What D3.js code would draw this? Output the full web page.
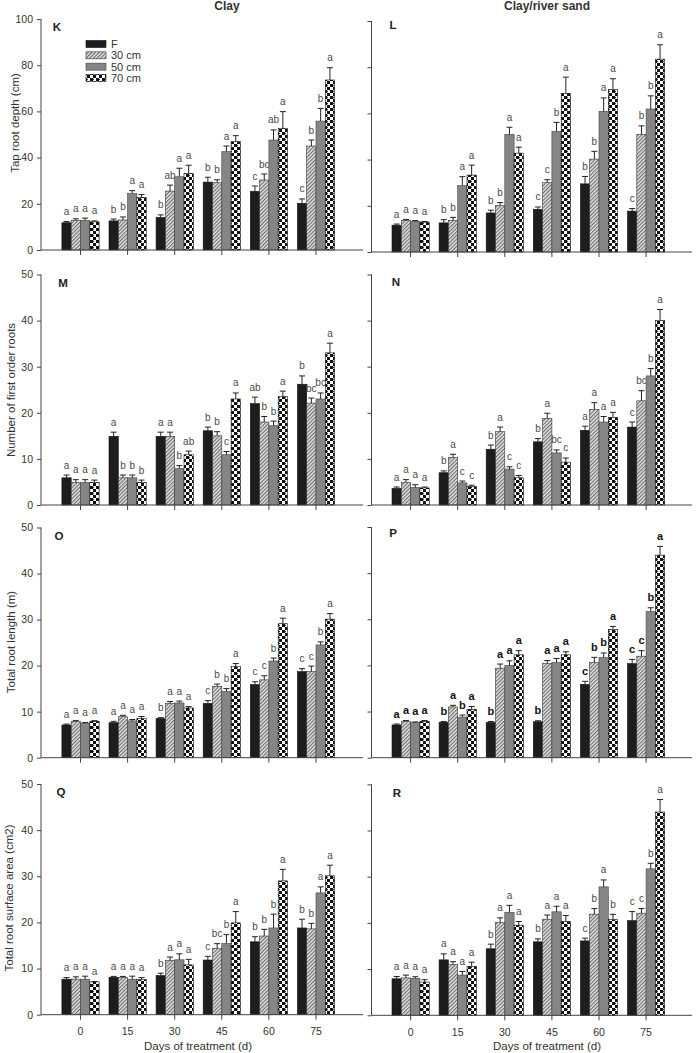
<!DOCTYPE html>
<html>
<head>
<meta charset="utf-8">
<script src="https://cdn.jsdelivr.net/npm/d3@7"></script>
<style>
  html, body { margin: 0; padding: 0; background: #fff; }
  svg { display: block; font-family: "Liberation Sans", Arial, sans-serif; }
</style>
</head>
<body>
<svg id="chart" width="700" height="1053"></svg>
<script>
// ---------------- DATA ----------------
const days = ["0", "15", "30", "45", "60", "75"];
const series = ["F", "30 cm", "50 cm", "70 cm"];
const ticks100 = [0, 20, 40, 60, 80, 100];
const ticks50 = [0, 10, 20, 30, 40, 50];

// K: Tap root depth (cm), Clay
const kMean = [[11.8, 12.6, 14.1, 29.4, 25.4, 20.2],
               [12.8, 13.0, 25.5, 29.1, 30.3, 45.0],
               [12.8, 24.4, 31.7, 42.6, 47.6, 55.8],
               [12.2, 22.8, 33.2, 46.9, 52.7, 73.6]];
const kErr  = [[0.5, 0.8, 1.1, 2.1, 2.3, 1.9],
               [0.7, 1.3, 2.6, 1.3, 2.6, 2.6],
               [1.0, 1.3, 3.7, 2.4, 4.4, 5.5],
               [0.4, 1.2, 3.5, 2.6, 7.2, 5.3]];
const kLet  = [["a", "b", "b", "b", "c", "c"],
               ["a", "b", "ab", "b", "bc", "b"],
               ["a", "a", "a", "a", "ab", "b"],
               ["a", "a", "a", "a", "a", "a"]];

// L: Tap root depth (cm), Clay/river sand
const lMean = [[11.6, 12.6, 16.9, 18.5, 29.5, 17.7],
               [13.7, 13.7, 20.1, 30.0, 40.2, 50.9],
               [13.3, 28.8, 50.9, 52.2, 60.9, 61.9],
               [12.9, 33.3, 42.8, 68.7, 70.3, 83.5]];
const lErr  = [[0.5, 1.4, 1.2, 1.0, 3.2, 1.1],
               [0.4, 1.3, 1.3, 1.3, 3.4, 3.7],
               [0.3, 3.8, 3.1, 3.9, 5.8, 5.7],
               [0.3, 4.3, 2.6, 7.0, 4.7, 6.2]];
const lLet  = [["a", "b", "b", "c", "b", "c"],
               ["a", "b", "b", "c", "b", "b"],
               ["a", "a", "a", "b", "a", "b"],
               ["a", "a", "a", "a", "a", "a"]];

// M: Number of first order roots, Clay
const mMean = [[5.9, 14.9, 14.9, 16.1, 22.0, 26.2],
               [4.9, 5.9, 14.9, 15.0, 18.0, 22.1],
               [4.9, 5.9, 7.9, 10.9, 17.2, 23.0],
               [4.9, 4.9, 10.9, 23.0, 23.5, 33.0]];
const mErr  = [[0.6, 0.9, 0.9, 0.8, 1.4, 1.8],
               [0.6, 0.6, 0.9, 0.9, 1.2, 1.1],
               [0.6, 0.6, 0.65, 0.7, 1.0, 1.3],
               [0.5, 0.5, 0.8, 1.3, 1.2, 2.1]];
const mLet  = [["a", "a", "a", "b", "ab", "b"],
               ["a", "b", "a", "b", "b", "bc"],
               ["a", "b", "b", "c", "b", "bc"],
               ["a", "b", "ab", "a", "a", "a"]];

// N: Number of first order roots, Clay/river sand
const nMean = [[3.6, 7.0, 12.1, 13.7, 16.2, 16.9],
               [4.9, 10.3, 15.9, 18.8, 20.7, 22.6],
               [3.8, 4.8, 7.8, 11.3, 18.0, 28.0],
               [3.7, 4.0, 5.9, 9.3, 19.0, 40.0]];
const nErr  = [[0.3, 0.4, 0.9, 0.7, 0.9, 1.1],
               [0.6, 0.7, 1.0, 1.1, 1.5, 2.2],
               [0.6, 0.4, 0.5, 0.65, 1.2, 1.6],
               [0.2, 0.3, 0.5, 0.9, 1.1, 2.4]];
const nLet  = [["a", "b", "b", "b", "a", "c"],
               ["a", "a", "a", "a", "a", "bc"],
               ["a", "c", "c", "bc", "a", "b"],
               ["a", "c", "c", "c", "a", "a"]];

// O: Total root length (m), Clay
const oMean = [[7.1, 7.6, 8.5, 11.8, 15.9, 18.7],
               [7.9, 8.9, 11.8, 15.5, 16.9, 18.7],
               [7.5, 8.0, 11.9, 14.4, 21.0, 24.5],
               [7.9, 8.5, 10.8, 19.8, 29.1, 30.1]];
const oErr  = [[0.2, 0.3, 0.2, 0.6, 0.6, 0.65],
               [0.15, 0.3, 0.4, 0.5, 0.9, 1.2],
               [0.15, 0.3, 0.4, 0.6, 0.65, 0.65],
               [0.15, 0.45, 0.3, 0.65, 1.2, 1.2]];
const oLet  = [["a", "a", "b", "c", "c", "c"],
               ["a", "a", "a", "b", "c", "c"],
               ["a", "a", "a", "b", "b", "b"],
               ["a", "a", "a", "a", "a", "a"]];

// P: Total root length (m), Clay/river sand
const pMean = [[7.1, 7.7, 7.65, 7.8, 15.9, 20.4],
               [7.9, 11.0, 19.4, 20.4, 20.6, 22.0],
               [7.6, 8.8, 20.0, 20.6, 21.7, 31.7],
               [7.9, 10.5, 22.3, 22.3, 27.8, 43.9]];
const pErr  = [[0.2, 0.15, 0.2, 0.2, 0.65, 0.9],
               [0.15, 0.35, 0.9, 0.65, 1.15, 1.2],
               [0.15, 0.45, 1.0, 0.9, 1.0, 0.8],
               [0.15, 0.6, 0.9, 0.65, 0.65, 1.9]];
const pLet  = [["a", "b", "b", "b", "c", "c"],
               ["a", "a", "a", "a", "b", "c"],
               ["a", "b", "a", "a", "b", "b"],
               ["a", "a", "a", "a", "a", "a"]];

// Q: Total root surface area (cm2), Clay
const qMean = [[7.7, 8.1, 8.5, 11.85, 15.8, 18.8],
               [7.7, 8.1, 11.8, 14.4, 17.05, 18.6],
               [7.7, 7.7, 11.9, 15.4, 18.8, 26.4],
               [7.1, 7.6, 10.8, 19.9, 29.0, 30.1]];
const qErr  = [[0.35, 0.2, 0.5, 0.8, 1.1, 1.9],
               [0.5, 0.2, 0.7, 1.0, 1.45, 1.2],
               [0.65, 0.65, 1.3, 1.95, 3.0, 1.3],
               [0.1, 0.45, 1.2, 2.45, 2.5, 2.3]];
const qLet  = [["a", "a", "b", "c", "b", "b"],
               ["a", "a", "a", "bc", "b", "b"],
               ["a", "a", "a", "b", "b", "a"],
               ["a", "a", "a", "a", "a", "a"]];

// R: Total root surface area (cm2), Clay/river sand
const rMean = [[7.9, 12.0, 14.4, 15.9, 16.1, 20.5],
               [8.1, 11.0, 20.1, 20.8, 21.9, 22.1],
               [8.0, 8.7, 22.3, 22.4, 27.8, 31.7],
               [7.2, 10.6, 19.5, 20.3, 20.7, 44.0]];
const rErr  = [[0.5, 1.3, 1.0, 0.65, 0.6, 1.95],
               [0.6, 0.6, 1.0, 0.9, 1.2, 1.0],
               [0.35, 0.8, 1.5, 1.2, 1.5, 1.2],
               [0.5, 0.9, 0.8, 1.3, 1.15, 2.7]];
const rLet  = [["a", "a", "b", "b", "c", "c"],
               ["a", "a", "a", "a", "b", "c"],
               ["a", "a", "a", "a", "a", "b"],
               ["a", "a", "a", "a", "b", "a"]];

const colTitles = ["Clay", "Clay/river sand"];
const yLabels = ["Tap root depth (cm)", "Number of first order roots", "Total root length (m)", "Total root surface area (cm2)"];
const xTitle = "Days of treatment (d)";

// ---------------- LAYOUT ----------------
const svg = d3.select("#chart");
svg.append("rect").attr("width", 700).attr("height", 1053).attr("fill", "#fff");

const defs = svg.append("defs");
// 30 cm hatch
const hatch = defs.append("pattern").attr("id", "hatch").attr("patternUnits", "userSpaceOnUse")
  .attr("width", 2.6).attr("height", 10).attr("patternTransform", "rotate(45)");
hatch.append("rect").attr("width", 2.6).attr("height", 10).attr("fill", "#e6e6e6");
hatch.append("line").attr("x1", 0.6).attr("y1", 0).attr("x2", 0.6).attr("y2", 10)
  .attr("stroke", "#5a5a5a").attr("stroke-width", 1);
// 70 cm checker
const chk = defs.append("pattern").attr("id", "checker").attr("patternUnits", "userSpaceOnUse")
  .attr("width", 6).attr("height", 6);
chk.append("rect").attr("width", 6).attr("height", 6).attr("fill", "#fff");
chk.append("rect").attr("x", 0).attr("y", 0).attr("width", 3).attr("height", 3).attr("fill", "#111");
chk.append("rect").attr("x", 3).attr("y", 3).attr("width", 3).attr("height", 3).attr("fill", "#111");
chk.append("rect").attr("x", 2.2).attr("y", 0.8).attr("width", 1.6).attr("height", 1.4).attr("fill", "#111");
chk.append("rect").attr("x", 0.8).attr("y", 3.8).attr("width", 1.4).attr("height", 1.4).attr("fill", "#fff");

const fills = ["#1e1c1c", "url(#hatch)", "#858585", "url(#checker)"];
const strokes = ["#111", "#333", "#444", "#111"];

const LEFT = { x0: 41, x1: 363, b0: 61.9, b1: 334.6 };
const RIGHT = { x0: 371.5, x1: 692, b0: 392, b1: 664.7 };

const panels = [
  { id: "K", col: LEFT,  top: 19,    bot: 250,    max: 100, ticks: ticks100, mean: kMean, err: kErr, lets: kLet, row: 0, lx: 57,  ly: 31 },
  { id: "L", col: RIGHT, top: 21,    bot: 252,    max: 100, ticks: ticks100, mean: lMean, err: lErr, lets: lLet, row: 0, lx: 393, ly: 29 },
  { id: "M", col: LEFT,  top: 274.5, bot: 505,    max: 50,  ticks: ticks50,  mean: mMean, err: mErr, lets: mLet, row: 1, lx: 63,  ly: 287 },
  { id: "N", col: RIGHT, top: 274.5, bot: 505,    max: 50,  ticks: ticks50,  mean: nMean, err: nErr, lets: nLet, row: 1, lx: 396, ly: 286 },
  { id: "O", col: LEFT,  top: 527.5, bot: 757.7,  max: 50,  ticks: ticks50,  mean: oMean, err: oErr, lets: oLet, row: 2, lx: 59,  ly: 540 },
  { id: "P", col: RIGHT, top: 527,   bot: 757.7,  max: 50,  ticks: ticks50,  mean: pMean, err: pErr, lets: pLet, row: 2, lx: 393, ly: 537, bold: true },
  { id: "Q", col: LEFT,  top: 784,   bot: 1014.7, max: 50,  ticks: ticks50,  mean: qMean, err: qErr, lets: qLet, row: 3, lx: 61,  ly: 796 },
  { id: "R", col: RIGHT, top: 784.3, bot: 1015.3, max: 50,  ticks: ticks50,  mean: rMean, err: rErr, lets: rLet, row: 3, lx: 397, ly: 797 }
];
const yLabelPos = [{ x: 15, y: 123 }, { x: 11, y: 390 }, { x: 11, y: 642 }, { x: 9, y: 898 }];

const axisColor = "#444";
const textColor = "#333";

panels.forEach(p => {
  const isLeft = p.col === LEFT;
  const g = svg.append("g");
  const x = d3.scaleBand().domain(days).range([p.col.b0, p.col.b1]).paddingInner(0.21).paddingOuter(0);
  const xs = d3.scaleBand().domain(series).range([0, x.bandwidth()]).padding(0);
  const y = d3.scaleLinear().domain([0, p.max]).range([p.bot, p.top]);

  // bars
  series.forEach((s, si) => {
    const gs = g.append("g");
    gs.selectAll("rect").data(days).join("rect")
      .attr("x", (d) => x(d) + xs(s))
      .attr("y", (d, i) => y(p.mean[si][i]))
      .attr("width", xs.bandwidth())
      .attr("height", (d, i) => y(0) - y(p.mean[si][i]))
      .attr("fill", fills[si])
      .attr("stroke", strokes[si]).attr("stroke-width", 0.6);
    // error bars
    const cx = (d) => x(d) + xs(s) + xs.bandwidth() / 2;
    gs.selectAll("line.e").data(days).join("line").attr("class", "e")
      .attr("x1", cx).attr("x2", cx)
      .attr("y1", (d, i) => y(p.mean[si][i]))
      .attr("y2", (d, i) => y(p.mean[si][i] + p.err[si][i]))
      .attr("stroke", "#222").attr("stroke-width", 1);
    gs.selectAll("line.c").data(days).join("line").attr("class", "c")
      .attr("x1", (d) => cx(d) - 3).attr("x2", (d) => cx(d) + 3)
      .attr("y1", (d, i) => y(p.mean[si][i] + p.err[si][i]))
      .attr("y2", (d, i) => y(p.mean[si][i] + p.err[si][i]))
      .attr("stroke", "#222").attr("stroke-width", 1);
    // letters
    gs.selectAll("text").data(days).join("text")
      .attr("x", cx)
      .attr("y", (d, i) => y(p.mean[si][i] + p.err[si][i]) - 6.5)
      .attr("text-anchor", "middle")
      .attr("font-size", p.bold ? 11 : 10)
      .attr("font-weight", p.bold ? "bold" : "normal")
      .attr("fill", p.bold ? "#111" : "#4a4a4a")
      .text((d, i) => p.lets[si][i]);
  });

  // y axis
  const ya = d3.axisLeft(y).tickValues(p.ticks).tickSize(4).tickPadding(4)
    .tickFormat(isLeft ? d3.format("d") : () => "");
  const yg = g.append("g").attr("transform", `translate(${p.col.x0},0)`).call(ya);
  yg.select(".domain").remove();
  yg.selectAll(".tick line").attr("stroke", axisColor);
  yg.selectAll(".tick text").attr("fill", textColor).attr("font-size", 10.5)
    .attr("font-family", "Liberation Sans, Arial, sans-serif");
  g.append("line").attr("x1", p.col.x0).attr("x2", p.col.x0).attr("y1", p.top).attr("y2", p.bot)
    .attr("stroke", axisColor).attr("stroke-width", 1);

  // x axis
  const xa = d3.axisBottom(x).tickSize(5).tickPadding(8)
    .tickFormat(p.row === 3 ? (d) => d : () => "");
  const xg = g.append("g").attr("transform", `translate(0,${p.bot})`).call(xa);
  xg.select(".domain").remove();
  xg.selectAll(".tick line").attr("stroke", axisColor);
  xg.selectAll(".tick text").attr("fill", textColor).attr("font-size", 10.5)
    .attr("font-family", "Liberation Sans, Arial, sans-serif");
  g.append("line").attr("x1", p.col.x0).attr("x2", p.col.x1).attr("y1", p.bot).attr("y2", p.bot)
    .attr("stroke", axisColor).attr("stroke-width", 1);

  // panel letter
  g.append("text").attr("x", p.lx).attr("y", p.ly).attr("text-anchor", "middle")
    .attr("font-size", 11.5).attr("font-weight", "bold").attr("fill", "#222").text(p.id);

  if (isLeft) {
    const lp = yLabelPos[p.row];
    g.append("text").attr("transform", `translate(${lp.x},${lp.y}) rotate(-90)`)
      .attr("text-anchor", "middle").attr("dominant-baseline", "central")
      .attr("font-size", 11.5).attr("fill", textColor).text(yLabels[p.row]);
  }
  if (p.row === 3) {
    g.append("text").attr("x", isLeft ? 198 : 547).attr("y", 1050).attr("text-anchor", "middle")
      .attr("font-size", 11.5).attr("fill", textColor).text(xTitle);
  }
});

// column titles
svg.append("text").attr("x", 227).attr("y", 9.5).attr("text-anchor", "middle")
  .attr("font-size", 12).attr("font-weight", "bold").attr("fill", textColor).text(colTitles[0]);
svg.append("text").attr("x", 547).attr("y", 9.5).attr("text-anchor", "middle")
  .attr("font-size", 12).attr("font-weight", "bold").attr("fill", textColor).text(colTitles[1]);

// legend
const leg = svg.append("g");
const legY = d3.scalePoint().domain(series).range([44, 78]);
series.forEach((s, si) => {
  leg.append("rect").attr("x", 86).attr("y", legY(s) - 3.5).attr("width", 20).attr("height", 7)
    .attr("fill", fills[si]).attr("stroke", strokes[si]).attr("stroke-width", 0.6);
  leg.append("text").attr("x", 111).attr("y", legY(s)).attr("dominant-baseline", "central")
    .attr("font-size", 11).attr("fill", textColor).text(s);
});
</script>
</body>
</html>
